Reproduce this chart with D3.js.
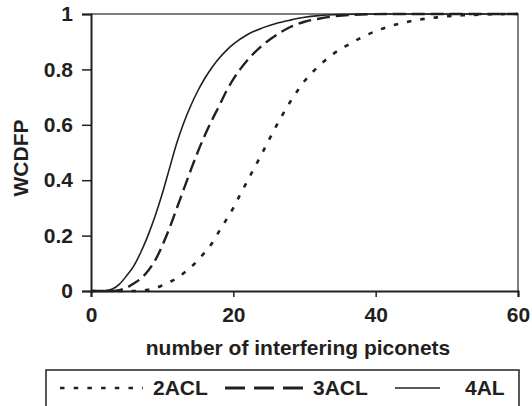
<!DOCTYPE html>
<html>
<head>
<meta charset="utf-8">
<script src="https://cdn.jsdelivr.net/npm/d3@7"></script>
<style>
  html, body { margin: 0; padding: 0; background: #fff; }
  svg { display: block; }
  text { font-family: "Liberation Sans", Arial, Helvetica, sans-serif; font-weight: bold; fill: #231f20; }
</style>
</head>
<body>
<svg id="chart" width="532" height="406"></svg>
<script>
// ---- data ----
const xAL4 = [0, 2, 3, 4, 5, 6, 7, 8, 9, 10, 11, 12, 13, 14, 15, 16, 17, 18, 19, 20, 22, 24, 26, 28, 30, 32, 35, 40, 50, 60];
const yAL4 = [0, 0.001, 0.007, 0.025, 0.055, 0.09, 0.14, 0.2, 0.27, 0.35, 0.44, 0.53, 0.605, 0.668, 0.722, 0.768, 0.807, 0.84, 0.868, 0.891, 0.926, 0.949, 0.966, 0.978, 0.988, 0.994, 0.998, 1, 1, 1];

const xACL3 = [0, 3, 4, 5, 6, 7, 8, 9, 10, 11, 12, 13, 14, 15, 16, 17, 18, 19, 20, 21, 22, 24, 26, 28, 30, 32, 34, 37, 42, 50, 60];
const yACL3 = [0, 0, 0.003, 0.012, 0.027, 0.045, 0.072, 0.11, 0.163, 0.225, 0.295, 0.365, 0.435, 0.502, 0.562, 0.617, 0.668, 0.72, 0.765, 0.802, 0.834, 0.885, 0.923, 0.953, 0.972, 0.983, 0.991, 0.997, 1, 1, 1];

const xACL2 = [0, 6, 8, 9, 10, 11, 12, 13, 14, 15, 16, 17, 18, 19, 20, 21, 22, 23, 24, 25, 26, 27, 28, 29, 30, 32, 34, 36, 38, 40, 42, 44, 46, 48, 50, 53, 56, 60];
const yACL2 = [0, 0, 0.004, 0.01, 0.02, 0.032, 0.045, 0.064, 0.085, 0.11, 0.14, 0.172, 0.215, 0.257, 0.3, 0.35, 0.398, 0.447, 0.495, 0.545, 0.594, 0.64, 0.683, 0.722, 0.758, 0.812, 0.855, 0.887, 0.915, 0.938, 0.956, 0.969, 0.979, 0.986, 0.992, 0.996, 0.999, 1];

const seriesNames = ["2ACL", "3ACL", "4AL"];
const xTicks = [0, 20, 40, 60];
const yTicks = [0, 0.2, 0.4, 0.6, 0.8, 1];
const xTitle = "number of interfering piconets";
const yTitle = "WCDFP";

// ---- chart ----
const FS = 21;
const svg = d3.select("#chart");
const x = d3.scaleLinear().domain([0, 60]).range([91, 518]);
const y = d3.scaleLinear().domain([0, 1]).range([291, 14]);

// frame (top & right)
svg.append("path")
  .attr("d", `M${x(0)},${y(1)}H${x(60)}V${y(0)}`)
  .attr("fill", "none").attr("stroke", "#555").attr("stroke-width", 1.5);

// y axis
const yAxis = svg.append("g").attr("transform", `translate(${x(0)},0)`)
  .call(d3.axisLeft(y).tickValues(yTicks).tickSize(9).tickPadding(9)
    .tickFormat(d => d === 0 ? "0" : d === 1 ? "1" : d3.format(".1f")(d)));
yAxis.select(".domain").attr("stroke", "#231f20").attr("stroke-width", 2);
yAxis.selectAll(".tick line").attr("stroke", "#231f20").attr("stroke-width", 1.5);
yAxis.selectAll(".tick text").attr("font-size", FS).attr("font-family", null).attr("fill", "#231f20");

// x axis
const xAxis = svg.append("g").attr("transform", `translate(0,${y(0)})`)
  .call(d3.axisBottom(x).tickValues(xTicks).tickSize(6).tickPadding(10));
xAxis.select(".domain").attr("stroke", "#231f20").attr("stroke-width", 2);
xAxis.selectAll(".tick line").attr("stroke", "#231f20").attr("stroke-width", 1.5);
xAxis.selectAll(".tick text").attr("font-size", FS).attr("font-family", null).attr("fill", "#231f20");

// titles
svg.append("text").attr("x", 298).attr("y", 355)
  .attr("text-anchor", "middle").attr("font-size", FS).text(xTitle);
svg.append("text").attr("transform", "translate(28,158) rotate(-90)")
  .attr("text-anchor", "middle").attr("font-size", FS).text(yTitle);

// lines
const line = d3.line().x(d => x(d[0])).y(d => y(d[1])).curve(d3.curveMonotoneX);
const styles = [
  { xs: xACL2, ys: yACL2, dash: "4.5,9", w: 2.6 },
  { xs: xACL3, ys: yACL3, dash: "13,6", w: 2.4 },
  { xs: xAL4,  ys: yAL4,  dash: null,   w: 1.6 }
];
const plot = svg.append("g");
styles.forEach(s => {
  plot.append("path")
    .datum(s.xs.map((v, i) => [v, s.ys[i]]))
    .attr("d", line)
    .attr("fill", "none")
    .attr("stroke", "#231f20")
    .attr("stroke-width", s.w)
    .attr("stroke-dasharray", s.dash);
});

// legend
const lg = svg.append("g");
lg.append("rect").attr("x", 46).attr("y", 370).attr("width", 473).attr("height", 60)
  .attr("fill", "#fff").attr("stroke", "#231f20").attr("stroke-width", 1.5);
const legendItems = [
  { x1: 60, x2: 143, tx: 153, dash: "4.5,9.2", w: 2.6 },
  { x1: 225, x2: 303, tx: 313, dash: "20,9", w: 2.8 },
  { x1: 395, x2: 440, tx: 465, dash: null, w: 1.6 }
];
legendItems.forEach((it, i) => {
  lg.append("line").attr("x1", it.x1).attr("x2", it.x2).attr("y1", 388).attr("y2", 388)
    .attr("stroke", "#231f20").attr("stroke-width", it.w).attr("stroke-dasharray", it.dash);
  lg.append("text").attr("x", it.tx).attr("y", 395).attr("font-size", FS).text(seriesNames[i]);
});
</script>
</body>
</html>
